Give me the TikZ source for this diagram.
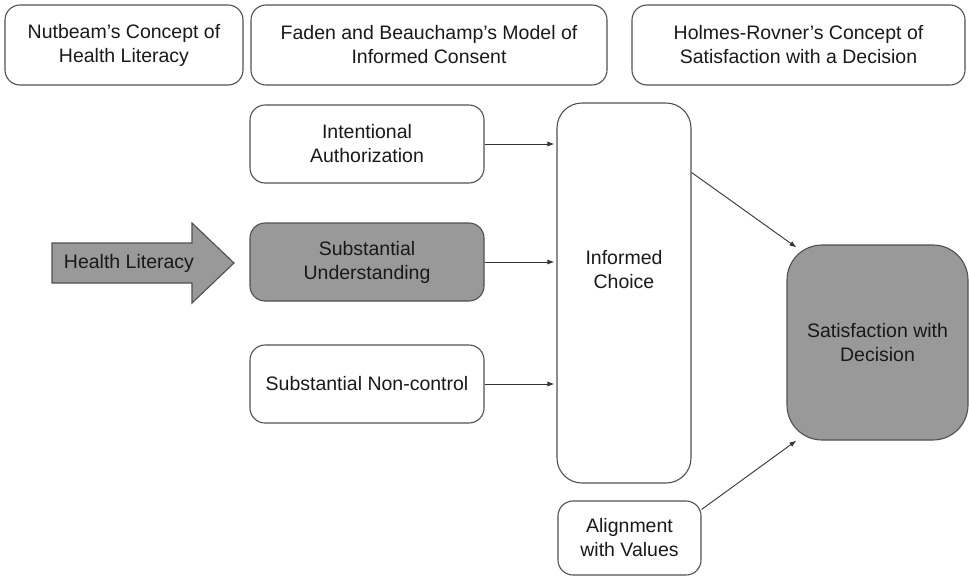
\documentclass[tikz,border=0pt]{standalone}
\usepackage{fontspec}
\setmainfont{Liberation Sans}
\usetikzlibrary{arrows.meta}
\definecolor{bordercol}{HTML}{505050}
\definecolor{fillgray}{HTML}{999999}
\newcommand{\fsz}{\fontsize{19.5}{24}\selectfont}
\begin{document}
\begin{tikzpicture}[x=1pt,y=-1pt,
  box/.style={draw=bordercol, line width=1.1pt, rounded corners=15pt, align=center, inner sep=0pt, font=\fsz, text=black!90},
  txt/.style={align=center, inner sep=0pt, font=\fsz, text=black!90},
  conn/.style={draw=black!80, line width=0.9pt, -{Latex[length=7pt,width=5pt]}}]
\useasboundingbox (0,0) rectangle (969,579);
% header boxes
\node[box, minimum width=238pt, minimum height=80pt] (nut) at (124,45) {Nutbeam’s Concept of\\Health Literacy};
\node[box, minimum width=356pt, minimum height=80pt] (fad) at (429,45) {Faden and Beauchamp’s Model of\\Informed Consent};
\node[box, minimum width=333pt, minimum height=80pt] (hol) at (798.5,45) {Holmes-Rovner’s Concept of\\Satisfaction with a Decision};
% component boxes
\node[box, minimum width=234pt, minimum height=78pt] (ia) at (367,144) {Intentional\\Authorization};
\node[box, fill=fillgray, minimum width=234pt, minimum height=78pt] (su) at (367,262) {Substantial\\Understanding};
\node[box, minimum width=234pt, minimum height=78pt] (nc) at (367,384) {Substantial Non-control};
\node[box, rounded corners=25pt, minimum width=134pt, minimum height=380pt] (ic) at (624,293) {};
\node[txt] (ictext) at (624,270) {Informed\\Choice};
\node[box, fill=fillgray, rounded corners=35pt, minimum width=181pt, minimum height=195pt] (sat) at (877.5,342.5) {Satisfaction with\\Decision};
\node[box, minimum width=143pt, minimum height=74pt] (al) at (629.5,538) {Alignment\\with Values};
% health literacy arrow
\draw[draw=bordercol, line width=1.1pt, fill=fillgray] (52,243) -- (192,243) -- (192,223) -- (234,263) -- (192,303) -- (192,283) -- (52,283) -- cycle;
\node[txt] (hl) at (129,263) {Health Literacy};
% connectors
\draw[conn, shorten >=2pt] (ia.east) -- (ia.east -| ic.west);
\draw[conn, shorten >=2pt] (su.east) -- (su.east -| ic.west);
\draw[conn, shorten >=2pt] (nc.east) -- (nc.east -| ic.west);
\coordinate (icout) at ([yshift=-70pt]ic.north east);
\coordinate (satin1) at ([xshift=10pt,yshift=-3pt]sat.north west);
\draw[conn] (icout) -- (satin1);
\coordinate (alout) at ([yshift=-9pt]al.north east);
\coordinate (satin2) at ([xshift=10pt,yshift=0pt]sat.south west);
\draw[conn] (alout) -- (satin2);
\end{tikzpicture}
\end{document}
